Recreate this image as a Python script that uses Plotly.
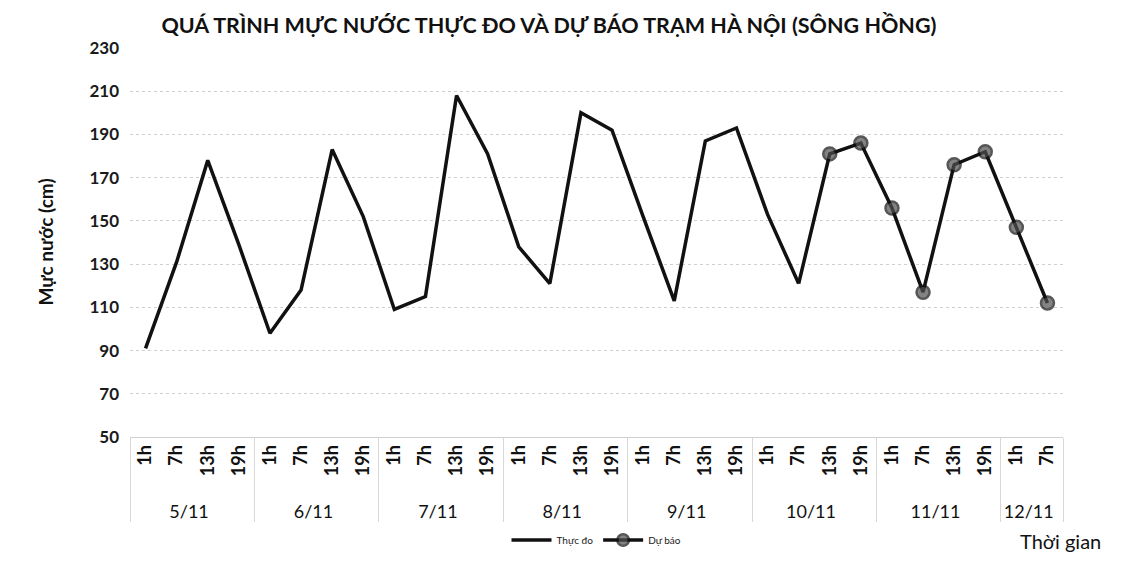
import plotly.graph_objects as go

days = ["5/11", "6/11", "7/11", "8/11", "9/11", "10/11", "11/11", "12/11"]
hours = ["1h", "7h", "13h", "19h"]
n_points = 30
day_labels = [d for d in days for _ in hours][:n_points]
hour_labels = [h for _ in days for h in hours][:n_points]

observed = [91, 131, 178, 139, 98, 118, 183, 152, 109, 115, 208, 181, 138, 121,
            200, 192, 152, 113, 187, 193, 153, 121]
forecast = [181, 186, 156, 117, 176, 182, 147, 112]

y_ticks = [50, 70, 90, 110, 130, 150, 170, 190, 210, 230]

FONT = "Lato"
PAD = "\u00a0\u2009"

n_obs = len(observed)
x_obs = [day_labels[:n_obs], hour_labels[:n_obs]]
# forecast line starts from the last observed point so the curve is continuous
fx_days = day_labels[n_obs - 1:n_obs + len(forecast)]
fx_hours = hour_labels[n_obs - 1:n_obs + len(forecast)]
fy = [observed[-1]] + forecast
fsize = [0] + [13] * len(forecast)

fig = go.Figure()
fig.add_trace(go.Scatter(
    x=x_obs, y=observed, mode="lines", name="Thực đo",
    line=dict(color="#111111", width=3.5),
))
fig.add_trace(go.Scatter(
    x=[fx_days, fx_hours], y=fy, mode="lines+markers", name="Dự báo",
    line=dict(color="#111111", width=3.5),
    marker=dict(size=fsize, color="#505050", line=dict(color="#111111", width=2.5)),
))

fig.update_layout(
    width=1129, height=568,
    margin=dict(l=122, r=74, t=40, b=139),
    paper_bgcolor="white", plot_bgcolor="white",
    font=dict(family=FONT, color="#1a1a1a"),
    showlegend=True,
    legend=dict(orientation="h", x=0.5, xanchor="center", y=-0.265, yanchor="middle",
                font=dict(size=10, family=FONT), itemwidth=40, tracegroupgap=0),
    title=dict(text="<b>QUÁ TRÌNH MỰC NƯỚC THỰC ĐO VÀ DỰ BÁO TRẠM HÀ NỘI (SÔNG HỒNG)</b>",
               x=0.449, xanchor="center", xref="paper", y=0.970, yanchor="middle",
               font=dict(size=21.5, family=FONT, color="#111111")),
)

fig.update_yaxes(
    range=[50, 230], tickvals=y_ticks, ticktext=[f"<b>{v}</b>" for v in y_ticks],
    tickfont=dict(size=17, family=FONT), ticklabelstandoff=10,
    showgrid=True, gridcolor="#cfcfcf", griddash="dot", gridwidth=1,
    zeroline=False, showline=False, automargin=False,
)
fig.update_xaxes(
    type="multicategory", tickangle=-90, range=[-0.5, n_points - 0.5],
    tickfont=dict(size=18, family=FONT, color="#111111"),
    tickprefix=PAD + "<b>", ticksuffix="</b>",
    showgrid=False, showline=True, linecolor="#d0d0d0", linewidth=1,
    showdividers=True, dividercolor="#d8d8d8", dividerwidth=1,
    ticks="", automargin=False,
)

fig.add_annotation(text="<b>Mực nước (cm)</b>", xref="paper", yref="paper",
                   x=-0.091, y=0.5, xanchor="center", yanchor="middle",
                   textangle=-90, showarrow=False,
                   font=dict(size=19, family=FONT, color="#111111"))
fig.add_annotation(text="Thời gian", xref="paper", yref="paper",
                   x=0.997, y=-0.267, xanchor="center", yanchor="middle",
                   showarrow=False,
                   font=dict(size=20, family=FONT, color="#111111"))

fig.write_html("out.html")
